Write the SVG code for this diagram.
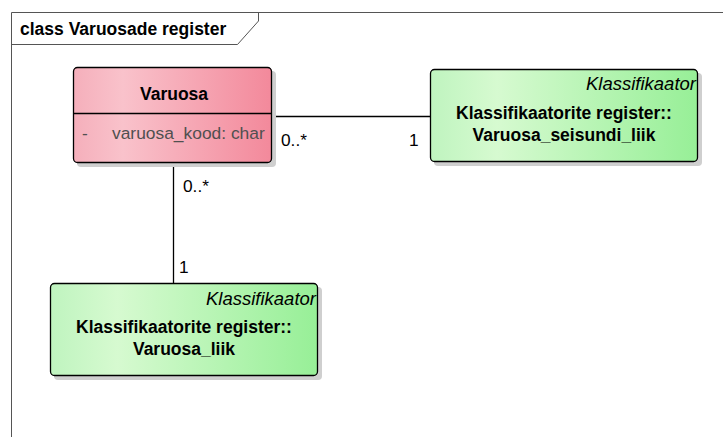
<svg xmlns="http://www.w3.org/2000/svg" width="723" height="437" viewBox="0 0 723 437">
  <style>
    text { font-family: "Liberation Sans", Arial, sans-serif; fill: #000; }
    .title { font-size: 17.5px; font-weight: bold; }
    .name { font-size: 17.5px; font-weight: bold; }
    .stereo { font-size: 18.5px; font-style: italic; }
    .attr { font-size: 17.4px; fill: #505050; }
    .mult { font-size: 17.3px; }
    .box { stroke: #000; stroke-width: 1.3; }
    .shadow { fill: #cfcfcf; }
    .conn { stroke: #000; stroke-width: 1.3; fill: none; }
    .frame { stroke: #555; stroke-width: 1; fill: none; }
  </style>
  <defs>
    <linearGradient id="pink" x1="0" y1="0" x2="1" y2="0">
      <stop offset="0" stop-color="#f5afbb"/>
      <stop offset="0.25" stop-color="#f9c2cb"/>
      <stop offset="1" stop-color="#f3899b"/>
    </linearGradient>
    <linearGradient id="green" x1="0" y1="0" x2="1" y2="0">
      <stop offset="0" stop-color="#bff4bf"/>
      <stop offset="0.25" stop-color="#d6fad0"/>
      <stop offset="1" stop-color="#97ef97"/>
    </linearGradient>
  </defs>

  <rect width="723" height="437" fill="#fff"/>

  <!-- diagram frame with name tab -->
  <g id="frame">
    <path class="frame" d="M11.5,437 L11.5,12.5 L723,12.5"/>
    <path class="frame" d="M11.5,44.5 L237.5,44.5 L258.5,21 L258.5,12.5"/>
    <text class="title" x="20" y="35">class Varuosade register</text>
  </g>

  <!-- associations and multiplicities -->
  <g id="connectors">
    <line class="conn" x1="272" y1="116.5" x2="430" y2="116.5"/>
    <line class="conn" x1="173.5" y1="163" x2="173.5" y2="283"/>
    <text class="mult" x="281" y="146">0..*</text>
    <text class="mult" x="409" y="146">1</text>
    <text class="mult" x="183" y="192">0..*</text>
    <text class="mult" x="179" y="273">1</text>
  </g>

  <g id="Varuosa">
    <rect class="shadow" x="77" y="71" width="199" height="96" rx="4"/>
    <rect class="box" x="73.5" y="67.5" width="198" height="95" rx="4" fill="url(#pink)"/>
    <line class="box" x1="73.5" y1="113.5" x2="271.5" y2="113.5"/>
    <text class="name" x="174" y="100" text-anchor="middle">Varuosa</text>
    <text class="attr" x="82" y="139">-</text>
    <text class="attr" x="112" y="139">varuosa_kood: char</text>
  </g>

  <g id="Varuosa_seisundi_liik">
    <rect class="shadow" x="434" y="73" width="268" height="93" rx="4"/>
    <rect class="box" x="430.5" y="69.5" width="267" height="92" rx="4" fill="url(#green)"/>
    <text class="stereo" x="696" y="90" text-anchor="end">Klassifikaator</text>
    <text class="name" x="564" y="119" text-anchor="middle">Klassifikaatorite register::</text>
    <text class="name" x="564" y="141" text-anchor="middle">Varuosa_seisundi_liik</text>
  </g>

  <g id="Varuosa_liik">
    <rect class="shadow" x="54" y="287" width="268" height="93" rx="4"/>
    <rect class="box" x="50.5" y="283.5" width="267" height="92" rx="4" fill="url(#green)"/>
    <text class="stereo" x="316" y="305" text-anchor="end">Klassifikaator</text>
    <text class="name" x="184" y="333" text-anchor="middle">Klassifikaatorite register::</text>
    <text class="name" x="184" y="355" text-anchor="middle">Varuosa_liik</text>
  </g>
</svg>
